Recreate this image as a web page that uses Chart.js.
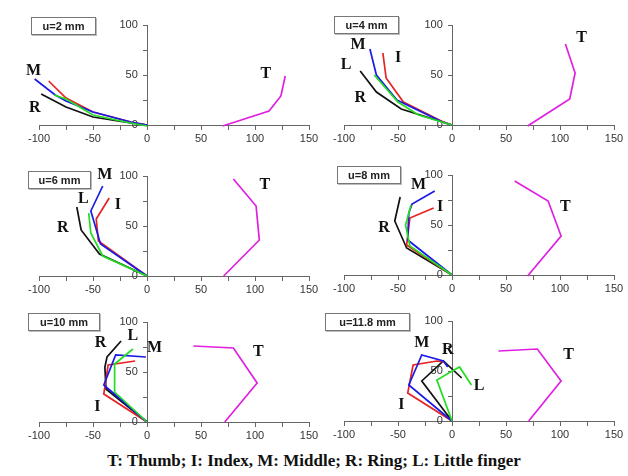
<!DOCTYPE html>
<html>
<head>
<meta charset="utf-8">
<script src="https://cdn.jsdelivr.net/npm/chart.js@4.4.1/dist/chart.umd.min.js"></script>
<style>
    body { margin: 0; width: 628px; height: 476px; background: #fff; position: relative; overflow: hidden; }
    canvas { position: absolute; }
    .ubox {
        position: absolute; box-sizing: border-box; height: 18px;
        border: 1px solid #777; box-shadow: 1px 1px 0 #bbb; background: #fff;
        font: bold 11px "Liberation Sans", Arial, sans-serif; color: #222;
        text-align: center; line-height: 16px;
    }
    #caption {
        position: absolute; left: 0; top: 451px; width: 628px; text-align: center;
        font: bold 17px "Liberation Serif", "Times New Roman", serif; color: #111;
    }
</style>
</head>
<body>
<div id="caption">T: Thumb; I: Index, M: Middle; R: Ring; L: Little finger</div>
<script>
// --- data: [x, y] in mm for each finger, per opening u

const u2Index  = [[0, 0], [-15, 3], [-50, 13], [-75, 27], [-91, 44]];
const u2Middle = [[0, 0], [-15, 3], [-50, 13], [-75, 24], [-85, 30], [-104, 46]];
const u2Ring   = [[0, 0], [-15, 2], [-50, 8], [-75, 18], [-98, 31]];
const u2Little = [[0, -1], [-20, 3], [-50, 10], [-75, 26], [-86, 30]];
const u2Thumb  = [[70, -1], [113, 14], [124, 29], [128, 49]];
const u2Labels = [["M", -105, 54], ["R", -104, 17], ["T", 110, 51]];

const u4Index  = [[0, 0], [-10, 4], [-45, 23], [-61, 47], [-64, 72]];
const u4Middle = [[0, 0], [-9, 3], [-51, 25], [-70, 50], [-76, 76]];
const u4Ring   = [[0, 0], [-47, 16], [-70, 33], [-85, 54]];
const u4Little = [[0, 0], [-31, 10], [-50, 23], [-72, 50]];
const u4Thumb  = [[70, -1], [109, 26], [114, 52], [105, 81]];
const u4Labels = [["M", -87, 80], ["I", -50, 67], ["L", -98, 60], ["R", -85, 27], ["T", 120, 87]];

const u6Index  = [[0, 0], [-45, 35], [-47, 57], [-35, 78]];
const u6Middle = [[0, 0], [-43, 32], [-52, 65], [-41, 90]];
const u6Ring   = [[0, 0], [-44, 22], [-61, 46], [-65, 69]];
const u6Little = [[0, 0], [-41, 20], [-52, 43], [-54, 63]];
const u6Thumb  = [[71, 0], [104, 36], [101, 70], [80, 97]];
const u6Labels = [["M", -39, 101], ["L", -59, 77], ["I", -27, 71], ["R", -78, 48], ["T", 109, 91]];

const u8Index  = [[0, 0], [-42, 30], [-39, 57], [-17, 67]];
const u8Middle = [[0, 0], [-41, 35], [-40, 62], [-37, 71], [-16, 84]];
const u8Ring   = [[0, 0], [-42, 27], [-53, 54], [-48, 78]];
const u8Little = [[0, 0], [-39, 29], [-43, 50], [-38, 70]];
const u8Thumb  = [[70, -1], [101, 39], [89, 74], [58, 94]];
const u8Labels = [["M", -31, 90], ["I", -11, 68], ["R", -63, 47], ["T", 105, 68]];

const u10Index  = [[0, 0], [-40, 28], [-36, 57], [-11, 61]];
const u10Middle = [[0, 0], [-40, 37], [-29, 67], [-1, 65]];
const u10Ring   = [[0, 0], [-38, 33], [-39, 55], [-37, 65], [-24, 81]];
const u10Little = [[0, 0], [-30, 30], [-30, 58], [-13, 73]];
const u10Thumb  = [[72, 0], [102, 39], [80, 74], [43, 76]];
const u10Labels = [["R", -43, 79], ["L", -13, 86], ["M", 7, 74], ["I", -46, 15], ["T", 103, 70]];

const u118Index  = [[0, 0], [-41, 28], [-36, 56], [-14, 60], [-8, 59]];
const u118Middle = [[0, 0], [-40, 36], [-28, 66], [-8, 60], [-4, 54]];
const u118Ring   = [[0, 0], [-28, 40], [-8, 60], [9, 43]];
const u118Little = [[0, 0], [-14, 41], [-3, 48], [7, 54], [18, 36]];
const u118Thumb  = [[71, 0], [101, 40], [79, 72], [43, 70]];
const u118Labels = [["M", -28, 78], ["R", -4, 71], ["L", 25, 35], ["I", -47, 16], ["T", 108, 66]];

const xTicks = [-100, -50, 0, 50, 100, 150];
const yTicks = [0, 50, 100];

// --- where each panel sits: pixel of x=-100, x=150, y=100, y=0
const PAD = { left: 24, right: 22, top: 14, bottom: 22 };

function makePanel(box, title, boxPos, fingers, labels) {
    const [L, R, T, B] = box;
    const canvas = document.createElement("canvas");
    canvas.width  = R - L + PAD.left + PAD.right;
    canvas.height = B - T + PAD.top + PAD.bottom;
    canvas.style.left = (L - PAD.left) + "px";
    canvas.style.top  = (T - PAD.top) + "px";
    document.body.appendChild(canvas);

    const tag = document.createElement("div");
    tag.className = "ubox";
    tag.textContent = title;
    tag.style.left = boxPos[0] + "px";
    tag.style.top = boxPos[1] + "px";
    tag.style.width = boxPos[2] + "px";
    document.body.appendChild(tag);

    const [index, middle, ring, little, thumb] = fingers;
    const line = (pts, color) => ({
        data: pts.map(p => ({ x: p[0], y: p[1] })),
        borderColor: color, borderWidth: 1.7,
        showLine: true, pointRadius: 0, tension: 0, clip: false,
    });

    const letters = {
        id: "letters",
        afterDatasetsDraw(chart) {
            const { ctx, scales: { x, y } } = chart;
            ctx.save();
            ctx.font = 'bold 16px "Liberation Serif", serif';
            ctx.fillStyle = "#111";
            ctx.textAlign = "center";
            ctx.textBaseline = "middle";
            for (const [t, vx, vy] of labels) {
                ctx.fillText(t, x.getPixelForValue(vx), y.getPixelForValue(vy));
            }
            ctx.restore();
        },
    };

    const tickFont = { family: '"Liberation Sans", Arial, sans-serif', size: 11 };
    new Chart(canvas, {
        type: "scatter",
        data: {
            datasets: [
                line(little, "#22dd22"),
                line(middle, "#1a1ae6"),
                line(index, "#e62222"),
                line(ring, "#111111"),
                line(thumb, "#e020e0"),
            ],
        },
        options: {
            responsive: false, animation: false, events: [],
            layout: { padding: PAD },
            plugins: { legend: { display: false }, tooltip: { enabled: false } },
            scales: {
                x: {
                    type: "linear", min: -100, max: 150, position: { y: 0 },
                    ticks: {
                        stepSize: 25, autoSkip: false, maxRotation: 0, padding: 3,
                        color: "#333", font: tickFont,
                        callback: v => xTicks.includes(v) ? v : "",
                    },
                    grid: { drawOnChartArea: false, tickLength: 4, color: "#666" },
                    border: { color: "#666" },
                },
                y: {
                    type: "linear", min: 0, max: 100, position: { x: 0 },
                    ticks: {
                        stepSize: 25, autoSkip: false,
                        color: "#333", font: tickFont,
                        // centred axis ignores padding, so push labels off the line
                        callback: v => yTicks.includes(v) ? v + "   " : "",
                    },
                    grid: { drawOnChartArea: false, tickLength: 4, color: "#666" },
                    border: { color: "#666" },
                },
            },
        },
        plugins: [letters],
    });
}

makePanel([39, 309, 25, 125],  "u=2 mm",    [31, 17, 65],
          [u2Index, u2Middle, u2Ring, u2Little, u2Thumb], u2Labels);
makePanel([344, 614, 25, 125], "u=4 mm",    [334, 16, 65],
          [u4Index, u4Middle, u4Ring, u4Little, u4Thumb], u4Labels);
makePanel([39, 309, 176, 276], "u=6 mm",    [28, 171, 63],
          [u6Index, u6Middle, u6Ring, u6Little, u6Thumb], u6Labels);
makePanel([344, 614, 175, 275], "u=8 mm",   [337, 166, 64],
          [u8Index, u8Middle, u8Ring, u8Little, u8Thumb], u8Labels);
makePanel([39, 309, 322, 422], "u=10 mm",   [28, 313, 72],
          [u10Index, u10Middle, u10Ring, u10Little, u10Thumb], u10Labels);
makePanel([344, 614, 321, 421], "u=11.8 mm", [325, 313, 85],
          [u118Index, u118Middle, u118Ring, u118Little, u118Thumb], u118Labels);
</script>
</body>
</html>
